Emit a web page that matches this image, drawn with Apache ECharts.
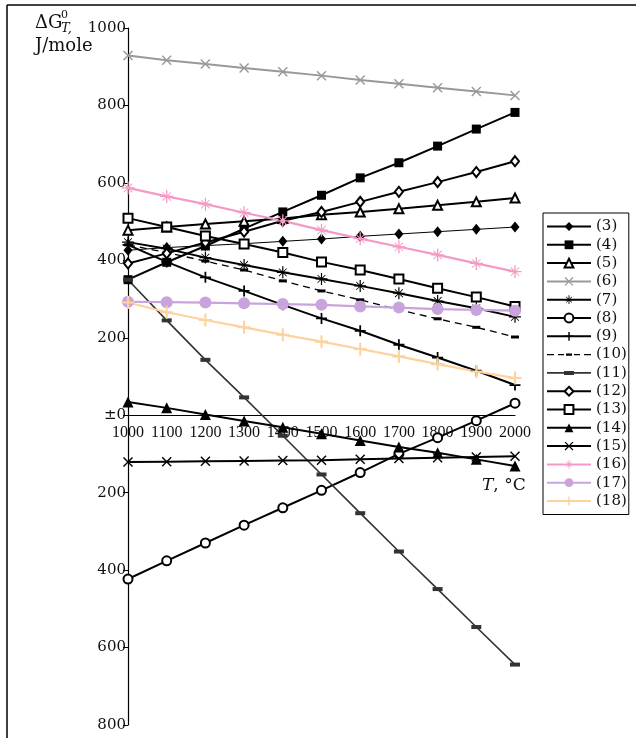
<!DOCTYPE html>
<html>
<head>
<meta charset="utf-8">
<title>Delta G chart</title>
<script src="https://cdn.jsdelivr.net/npm/echarts@6/dist/echarts.min.js"></script>
<style>
    html, body { margin: 0; padding: 0; background: #fff; }
    #main { width: 636px; height: 738px; }
</style>
</head>
<body>
<div id="main"></div>
<script>
// temperatures, deg C
var temps = [1000, 1100, 1200, 1300, 1400, 1500, 1600, 1700, 1800, 1900, 2000];

// y range and step
var yMin = -800;
var yMax = 1000;
var yStep = 200;

// ΔG values, one array per reaction
var g3  = [426, 433, 438, 443, 449, 455, 462, 468, 474, 480, 486];
var g4  = [350, 395, 437, 482, 525, 568, 613, 652, 695, 739, 782];
var g5  = [478, 486, 494, 501, 508, 518, 525, 533, 542, 551, 561];
var g6  = [929, 917, 907, 897, 887, 877, 866, 856, 846, 836, 826];
var g7  = [447, 430, 407, 388, 369, 352, 334, 315, 295, 276, 254];
var g8  = [-423, -376, -330, -284, -239, -194, -148, -100, -58, -14, 31];
var g9  = [440, 396, 356, 321, 285, 250, 218, 182, 149, 115, 78];
var g10 = [440, 420, 398, 375, 347, 321, 298, 272, 249, 227, 202];
var g11 = [350, 245, 143, 46, -53, -153, -253, -352, -449, -547, -644];
var g12 = [392, 418, 446, 474, 502, 525, 551, 577, 602, 628, 656];
var g13 = [509, 486, 463, 442, 420, 396, 375, 352, 328, 305, 281];
var g14 = [34, 19, 2, -15, -31, -48, -65, -82, -97, -114, -131];
var g15 = [-121, -120, -119, -118, -117, -116, -114, -112, -110, -108, -106];
var g16 = [587, 565, 545, 523, 502, 478, 456, 435, 414, 392, 371];
var g17 = [293, 292, 291, 289, 287, 285, 281, 278, 274, 272, 270];
var g18 = [291, 266, 246, 227, 208, 190, 171, 152, 132, 113, 96];

// marker shapes
var crossPath = 'path://M1,0 L5,4 L9,0 L10,1 L6,5 L10,9 L9,10 L5,6 L1,10 L0,9 L4,5 L0,1 Z';
var plusPath = 'path://M4.2,0h1.6v4.2h4.2v1.6h-4.2v4.2h-1.6v-4.2h-4.2v-1.6h4.2z';
var starPath = 'path://M9,0h2v9h9v2h-9v9h-2v-9h-9v-2h9z M4,3 L10,9 L16,3 L17,4 L11,10 L17,16 L16,17 L10,11 L4,17 L3,16 L9,10 L3,4 Z';
// legend icons for the two dash-marker series
var dashIcon = 'path://M0,0.5h7v1.2h-7z M11,0.5h6v1.2h-6z M19,0h6v2.2h-6z M27,0.5h6v1.2h-6z M37,0.5h7v1.2h-7z';
var barIcon = 'path://M0,1.2h44v1.6h-44z M17,0h10v4h-10z';

var serif = 'DejaVu Serif';

// grid box
var gridTop = 28;
var gridBottom = 13;
var plotH = 738 - gridTop - gridBottom;
// x axis sits on the zero line
var zeroOffset = -plotH * (0 - yMin) / (yMax - yMin);

function pts(vals) {
    return temps.map(function (t, i) { return [t, vals[i]]; });
}

function line(name, vals, color, symbol, size, width, extra) {
    var s = {
        name: name,
        type: 'line',
        data: pts(vals),
        symbol: symbol,
        symbolSize: size,
        lineStyle: { color: color, width: width },
        itemStyle: { color: color, borderWidth: 2 },
        emphasis: { disabled: true }
    };
    if (extra && extra.dash) {
        s.lineStyle.type = extra.dash;
    }
    if (extra && extra.noBorder) {
        s.itemStyle.borderWidth = 0;
    }
    return s;
}

var series = [
    line('(3)', g3, '#000', 'diamond', [9, 11], 1),
    line('(4)', g4, '#000', 'rect', 9, 2),
    line('(5)', g5, '#000', 'emptyTriangle', 9, 2),
    line('(6)', g6, '#999', crossPath, 10, 2),
    line('(7)', g7, '#000', starPath, 12, 2),
    line('(8)', g8, '#000', 'emptyCircle', 9, 2),
    line('(9)', g9, '#000', plusPath, 11, 2),
    line('(10)', g10, '#000', 'rect', [8, 3], 1.3, { dash: [7, 5], noBorder: true }),
    line('(11)', g11, '#333', 'rect', [10, 4], 1.6, { noBorder: true }),
    line('(12)', g12, '#000', 'emptyDiamond', [8, 10], 2),
    line('(13)', g13, '#000', 'emptyRect', 9, 2),
    line('(14)', g14, '#000', 'triangle', 11, 2),
    line('(15)', g15, '#000', crossPath, 10, 2),
    line('(16)', g16, '#f39bc6', starPath, 13, 2.2),
    line('(17)', g17, '#c9a4dc', 'circle', 12, 2.2),
    line('(18)', g18, '#fdd29c', plusPath, 13, 2.2)
];

var legendData = series.map(function (s) {
    if (s.name === '(10)') return { name: s.name, icon: dashIcon };
    if (s.name === '(11)') return { name: s.name, icon: barIcon };
    return { name: s.name };
});

var chart = echarts.init(document.getElementById('main'));

var option = {
    animation: false,
    backgroundColor: '#fff',
    grid: { left: 128, right: 121, top: gridTop, bottom: gridBottom },
    legend: {
        orient: 'vertical',
        left: 543,
        top: 213,
        padding: [6, 2, 6, 3],
        itemWidth: 44,
        itemHeight: 11,
        itemGap: 3.3,
        borderColor: '#000',
        borderWidth: 1,
        backgroundColor: '#fff',
        textStyle: { fontFamily: serif, fontSize: 15, lineHeight: 14, color: '#111' },
        data: legendData
    },
    xAxis: {
        type: 'value',
        min: temps[0],
        max: temps[temps.length - 1],
        interval: 100,
        offset: zeroOffset,
        axisLine: { onZero: false, lineStyle: { color: '#000', width: 1.2 } },
        axisTick: { show: false },
        splitLine: { show: false },
        axisLabel: {
            margin: 10,
            color: '#111',
            fontFamily: 'Liberation Serif',
            fontSize: 16,
            showMinLabel: true,
            showMaxLabel: true,
            formatter: function (v) { return String(v); }
        }
    },
    yAxis: {
        type: 'value',
        min: yMin,
        max: yMax,
        interval: yStep,
        axisLine: { show: true, onZero: false, lineStyle: { color: '#000', width: 1.2 } },
        axisTick: { show: true, length: 5, lineStyle: { color: '#000' } },
        splitLine: { show: false },
        axisLabel: {
            margin: 2,
            color: '#111',
            fontFamily: serif,
            fontSize: 15,
            formatter: function (v) {
                if (v === 0) return '±0';
                return String(Math.abs(v));
            }
        }
    },
    graphic: [
        // frame
        { type: 'line', shape: { x1: 7, y1: 5, x2: 636, y2: 5 }, style: { stroke: '#000', lineWidth: 1.5 } },
        { type: 'line', shape: { x1: 7, y1: 5, x2: 7, y2: 738 }, style: { stroke: '#000', lineWidth: 1.5 } },
        // y axis name
        { type: 'text', left: 35, top: 14, style: { text: 'ΔG', font: '18px "DejaVu Serif"', fill: '#111' } },
        { type: 'text', left: 61, top: 10, style: { text: '0', font: '11px "DejaVu Serif"', fill: '#111' } },
        { type: 'text', left: 61, top: 22, style: { text: 'T,', font: 'italic 13px "DejaVu Serif"', fill: '#111' } },
        { type: 'text', left: 35, top: 37, style: { text: 'J/mole', font: '18px "DejaVu Serif"', fill: '#111' } },
        // x axis name
        {
            type: 'text', left: 482, top: 477,
            style: {
                text: '{i|T}, °C',
                rich: {
                    i: { fontFamily: serif, fontStyle: 'italic', fontSize: 17, fill: '#111' }
                },
                font: '17px "DejaVu Serif"',
                fill: '#111'
            }
        }
    ],
    series: series
};

chart.setOption(option);
</script>
</body>
</html>
